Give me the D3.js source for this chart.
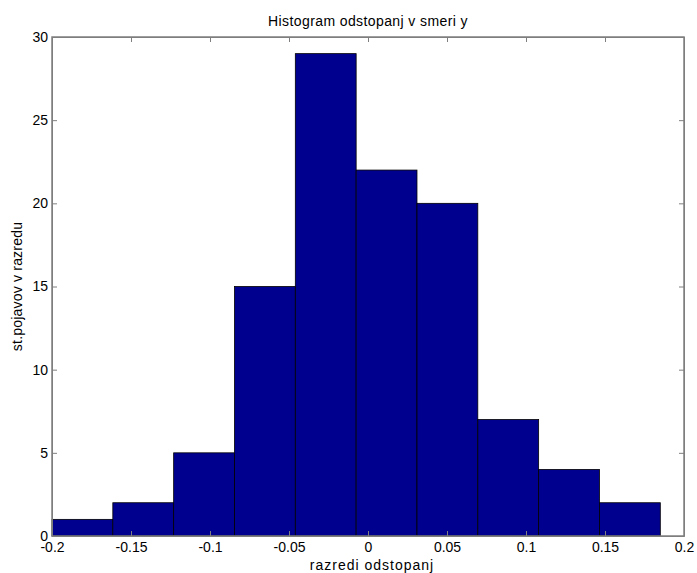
<!DOCTYPE html>
<html>
<head>
<meta charset="utf-8">
<script src="https://cdn.jsdelivr.net/npm/d3@7"></script>
<style>
body { margin: 0; background: #fff; }
text { font-family: "Liberation Sans", Arial, sans-serif; }
</style>
</head>
<body>
<svg id="svg"></svg>
<script>
// histogram bins (edges) and counts
var binEdges = [-0.2, -0.1615, -0.123, -0.0845, -0.046, -0.0075, 0.031, 0.0695, 0.108, 0.1465, 0.185];
var counts = [1, 2, 5, 15, 29, 22, 20, 7, 4, 2];
var xTicks = [-0.2, -0.15, -0.1, -0.05, 0, 0.05, 0.1, 0.15, 0.2];
var yTicks = [0, 5, 10, 15, 20, 25, 30];

var width = 697, height = 573;
var svg = d3.select("#svg")
	.attr("width", width)
	.attr("height", height);

var plotLeft = 52, plotRight = 684, plotTop = 37, plotBottom = 536;

var x = d3.scaleLinear()
	.domain([-0.2, 0.2])
	.range([plotLeft, plotRight]);

var y = d3.scaleLinear()
	.domain([0, 30])
	.range([plotBottom, plotTop]);

var bins = counts.map(function(c, i) {
	return { x0: binEdges[i], x1: binEdges[i + 1], n: c };
});

svg.selectAll("rect.bar")
	.data(bins)
	.enter()
	.append("rect")
	.attr("class", "bar")
	.attr("x", function(d) { return x(d.x0); })
	.attr("y", function(d) { return y(d.n); })
	.attr("width", function(d) { return x(d.x1) - x(d.x0); })
	.attr("height", function(d) { return y(0) - y(d.n); })
	.attr("fill", "#00008f")
	.attr("stroke", "#000")
	.attr("stroke-width", 0.8);

var axisColor = "#7f7f7f";

// bottom axis
var xAxis = d3.axisBottom(x).tickValues(xTicks).tickSizeInner(-5).tickSizeOuter(0)
	.tickFormat(function(d) { return String(+d.toFixed(2)); });
var gx = svg.append("g")
	.attr("transform", "translate(0," + plotBottom + ")")
	.call(xAxis);
gx.selectAll("text").attr("font-size", "14px").attr("fill", "#000").attr("dy", "0.95em").attr("y", 3);

// top ticks
svg.append("g")
	.attr("transform", "translate(0," + plotTop + ")")
	.call(d3.axisTop(x).tickValues(xTicks).tickSizeInner(-5).tickSizeOuter(0).tickFormat(""));

// left axis
var yAxis = d3.axisLeft(y).tickValues(yTicks).tickSizeInner(-5).tickSizeOuter(0)
	.tickFormat(d3.format("d"));
var gy = svg.append("g")
	.attr("transform", "translate(" + plotLeft + ",0)")
	.call(yAxis);
gy.selectAll("text").attr("font-size", "14px").attr("fill", "#000").attr("x", -4);

// right ticks
svg.append("g")
	.attr("transform", "translate(" + plotRight + ",0)")
	.call(d3.axisRight(y).tickValues(yTicks).tickSizeInner(-5).tickSizeOuter(0).tickFormat(""));

svg.selectAll(".domain, .tick line").attr("stroke", axisColor);

// box
svg.append("rect")
	.attr("x", plotLeft)
	.attr("y", plotTop)
	.attr("width", plotRight - plotLeft)
	.attr("height", plotBottom - plotTop)
	.attr("fill", "none")
	.attr("stroke", axisColor)
	.attr("stroke-width", 1.5);

svg.append("text")
	.attr("x", 368)
	.attr("y", 26)
	.attr("text-anchor", "middle")
	.attr("font-size", "14px")
	.attr("letter-spacing", "0.4px")
	.text("Histogram odstopanj v smeri y");

svg.append("text")
	.attr("x", 372)
	.attr("y", 570)
	.attr("text-anchor", "middle")
	.attr("font-size", "14px")
	.attr("letter-spacing", "1px")
	.text("razredi odstopanj");

svg.append("text")
	.attr("transform", "translate(22," + ((plotTop + plotBottom) / 2) + ") rotate(-90)")
	.attr("text-anchor", "middle")
	.attr("font-size", "14px")
	.attr("letter-spacing", "0.2px")
	.text("st.pojavov v razredu");
</script>
</body>
</html>
